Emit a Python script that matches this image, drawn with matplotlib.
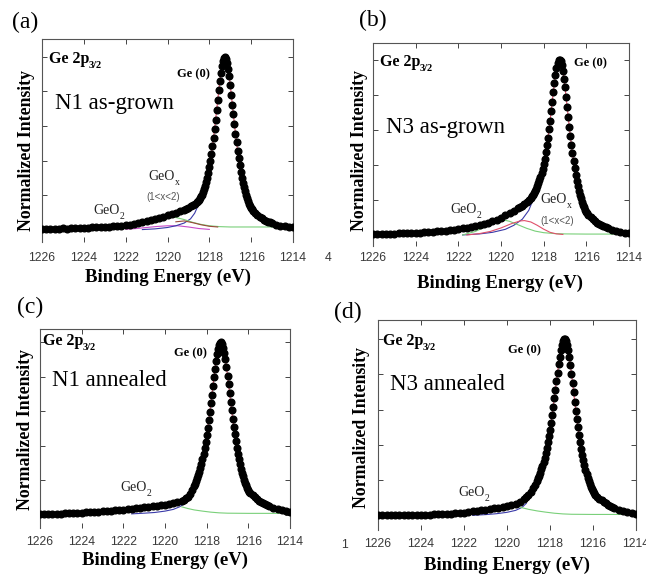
import numpy as np
import matplotlib.pyplot as plt

W, H = 646, 574
SERIF = 'Liberation Serif'
SANS = 'Liberation Sans'

# binding energy sampling (eV), denser across the Ge(0) peak
energy = np.round(np.concatenate([
    np.arange(1226.0, 1219.1, -0.2),
    np.arange(1219.1, 1218.65, -0.1),
    np.arange(1218.6, 1215.86, -0.05),
    np.arange(1215.8, 1214.95, -0.1),
    np.arange(1214.8, 1213.95, -0.2),
]), 2)

# measured points, normalized intensity
n1_grown = [
    0.004, 0.006, 0.004, 0.006, 0.005, 0.007, 0.006, 0.008, 0.009, 0.008,
    0.010, 0.011, 0.012, 0.013, 0.015, 0.016, 0.017, 0.019, 0.021, 0.023,
    0.026, 0.029, 0.033, 0.038, 0.043, 0.049, 0.055, 0.062, 0.069, 0.075,
    0.082, 0.090, 0.097, 0.105, 0.114,
    0.120, 0.127, 0.135, 0.143, 0.151,
    0.158, 0.165, 0.173, 0.182, 0.192, 0.203, 0.217, 0.234, 0.253, 0.275,
    0.300, 0.329, 0.362, 0.399, 0.439, 0.484, 0.531, 0.583, 0.637, 0.693,
    0.749, 0.806, 0.859, 0.907, 0.947, 0.977, 0.996, 1.000,
    0.990, 0.967, 0.932, 0.888, 0.837, 0.782, 0.724, 0.667, 0.610, 0.556,
    0.505, 0.457, 0.413, 0.372, 0.335, 0.301, 0.271, 0.244, 0.221, 0.200,
    0.181, 0.165, 0.150, 0.138, 0.127, 0.117, 0.108,
    0.095, 0.084, 0.074, 0.066, 0.058, 0.052, 0.046, 0.041, 0.037,
    0.029, 0.023, 0.019, 0.016, 0.013,
]
n3_grown = [
    0.004, 0.006, 0.004, 0.007, 0.006, 0.008, 0.010, 0.009, 0.011, 0.013,
    0.012, 0.014, 0.015, 0.017, 0.018, 0.020, 0.022, 0.024, 0.027, 0.030,
    0.034, 0.038, 0.042, 0.047, 0.052, 0.058, 0.064, 0.071, 0.079, 0.088,
    0.099, 0.112, 0.126, 0.139, 0.151,
    0.158, 0.166, 0.175, 0.186, 0.198,
    0.212, 0.221, 0.230, 0.241, 0.252, 0.265, 0.279, 0.295, 0.312, 0.331,
    0.352, 0.376, 0.404, 0.436, 0.471, 0.511, 0.554, 0.602, 0.652, 0.705,
    0.759, 0.813, 0.864, 0.910, 0.950, 0.979, 0.996, 1.000,
    0.991, 0.969, 0.935, 0.892, 0.842, 0.788, 0.731, 0.674, 0.618, 0.564,
    0.513, 0.466, 0.422, 0.381, 0.344, 0.310, 0.280, 0.253, 0.229, 0.208,
    0.189, 0.172, 0.157, 0.144, 0.133, 0.123, 0.114,
    0.101, 0.089, 0.079, 0.070, 0.062, 0.055, 0.049, 0.043, 0.038,
    0.030, 0.023, 0.017, 0.013, 0.010,
]
n1_annealed = [
    0.003, 0.003, 0.004, 0.005, 0.005, 0.006, 0.007, 0.008, 0.009, 0.010,
    0.011, 0.012, 0.014, 0.015, 0.017, 0.018, 0.020, 0.022, 0.024, 0.026,
    0.028, 0.031, 0.034, 0.037, 0.040, 0.042, 0.045, 0.048, 0.051, 0.054,
    0.057, 0.061, 0.066, 0.073, 0.081,
    0.086, 0.094, 0.104, 0.120, 0.140,
    0.166, 0.179, 0.194, 0.210, 0.228, 0.249, 0.271, 0.296, 0.324, 0.354,
    0.387, 0.423, 0.462, 0.504, 0.549, 0.596, 0.645, 0.695, 0.747, 0.797,
    0.846, 0.891, 0.931, 0.963, 0.986, 0.998, 0.999,
    0.989, 0.968, 0.938, 0.900, 0.856, 0.807, 0.757, 0.705, 0.654, 0.604,
    0.555, 0.509, 0.465, 0.425, 0.387, 0.353, 0.321, 0.292, 0.266, 0.242,
    0.221, 0.202, 0.185, 0.170, 0.156, 0.144, 0.133, 0.124,
    0.112, 0.100, 0.090, 0.080, 0.072, 0.065, 0.059, 0.053, 0.048,
    0.038, 0.031, 0.025, 0.020, 0.016,
]
n3_annealed = [
    0.002, 0.002, 0.003, 0.003, 0.003, 0.004, 0.004, 0.004, 0.005, 0.005,
    0.005, 0.006, 0.006, 0.007, 0.008, 0.009, 0.010, 0.012, 0.014, 0.016,
    0.018, 0.021, 0.024, 0.027, 0.030, 0.034, 0.037, 0.041, 0.045, 0.050,
    0.055, 0.060, 0.066, 0.076, 0.092,
    0.103, 0.115, 0.133, 0.154, 0.176,
    0.199, 0.212, 0.227, 0.243, 0.262, 0.282, 0.304, 0.328, 0.355, 0.384,
    0.415, 0.450, 0.487, 0.527, 0.571, 0.616, 0.664, 0.712, 0.762, 0.809,
    0.856, 0.899, 0.937, 0.967, 0.989, 0.999, 0.997,
    0.988, 0.966, 0.935, 0.896, 0.851, 0.801, 0.750, 0.697, 0.645, 0.594,
    0.545, 0.499, 0.455, 0.415, 0.378, 0.344, 0.313, 0.285, 0.259, 0.236,
    0.215, 0.197, 0.180, 0.165, 0.152, 0.140, 0.129, 0.119,
    0.108, 0.097, 0.087, 0.078, 0.069, 0.062, 0.055, 0.049, 0.044,
    0.034, 0.026, 0.020, 0.015, 0.012,
]

# fitted components (energy list, intensity list)
a_ge0 = ([1221.2, 1220.6, 1220.0, 1219.6, 1219.2, 1218.9, 1218.7, 1218.5, 1218.35],
         [0.000, 0.004, 0.012, 0.022, 0.038, 0.062, 0.095, 0.150, 0.210])
a_geo2 = ([1222.0, 1221.5, 1221.0, 1220.5, 1220.0, 1219.5, 1219.0, 1218.5, 1218.0],
          [0.002, 0.006, 0.012, 0.018, 0.022, 0.022, 0.015, 0.006, 0.001])
a_geox = ([1221.0, 1220.5, 1220.0, 1219.6, 1219.2, 1218.8, 1218.4, 1218.0, 1217.5,
           1217.0, 1216.0, 1215.0, 1214.2],
          [0.045, 0.062, 0.073, 0.070, 0.058, 0.042, 0.030, 0.022, 0.017,
           0.015, 0.015, 0.015, 0.015])
a_geox2 = ([1219.6, 1219.2, 1218.8, 1218.4, 1218.0, 1217.6],
           [0.045, 0.050, 0.040, 0.028, 0.019, 0.015])

b_ge0 = ([1221.8, 1221.0, 1220.4, 1219.8, 1219.4, 1219.0, 1218.7, 1218.5, 1218.35],
         [0.000, 0.006, 0.015, 0.032, 0.055, 0.090, 0.140, 0.200, 0.260])
b_geo2 = ([1221.8, 1221.2, 1220.6, 1220.2, 1219.9, 1219.6, 1219.2, 1218.8, 1218.4,
           1218.0, 1217.5, 1217.0, 1216.0, 1215.0, 1214.2],
          [0.000, 0.020, 0.055, 0.080, 0.086, 0.078, 0.058, 0.038, 0.022,
           0.013, 0.008, 0.006, 0.005, 0.005, 0.005])
b_geox = ([1221.6, 1221.0, 1220.5, 1220.0, 1219.5, 1219.1, 1218.9, 1218.6, 1218.3,
           1218.0, 1217.7, 1217.4, 1217.1],
          [0.000, 0.008, 0.020, 0.040, 0.065, 0.080, 0.082, 0.074, 0.055,
           0.033, 0.015, 0.006, 0.003])

c_ge0 = ([1221.6, 1221.0, 1220.5, 1220.0, 1219.6, 1219.3, 1219.1, 1218.95],
         [0.004, 0.008, 0.012, 0.020, 0.030, 0.045, 0.060, 0.085])
c_bg = ([1219.2, 1218.9, 1218.6, 1218.2, 1217.8, 1217.4, 1217.0, 1216.0, 1215.0, 1214.2],
        [0.045, 0.035, 0.027, 0.020, 0.014, 0.010, 0.008, 0.007, 0.007, 0.007])

d_ge0 = ([1221.6, 1221.0, 1220.5, 1220.0, 1219.6, 1219.3, 1219.1],
         [0.002, 0.006, 0.011, 0.019, 0.030, 0.047, 0.070])
d_bg = ([1219.4, 1219.0, 1218.6, 1218.2, 1217.8, 1217.4, 1217.0, 1216.0, 1215.0, 1214.2],
        [0.048, 0.036, 0.027, 0.020, 0.014, 0.010, 0.008, 0.007, 0.007, 0.007])

xticks = [1226, 1224, 1222, 1220, 1218, 1216, 1214]

BLUE = '#3a3aa8'
MAG = '#c84ac8'
GREEN = '#7ad07a'
RED = '#e0506a'
BROWN = '#9a4a3a'

fig = plt.figure(figsize=(W / 100, H / 100), dpi=100)


def fx(x):
    return x / W


def fy(y):
    return 1 - y / H


def panel(box, ylim, data, comps, pad):
    l, t, r, b = box
    ax = fig.add_axes([fx(l), fy(b), (r - l) / W, (b - t) / H])
    for (e, v), c in comps:
        ax.plot(e, v, color=c, lw=0.8, zorder=2)
    ax.plot(energy, data, '-', color=RED, lw=0.8, zorder=3)
    ax.plot(energy, data, 'o', color='black', ms=4.8, mec='black', zorder=4)
    ax.set_xlim(1226, 1214)
    ax.set_ylim(*ylim)
    ax.set_xticks(xticks)
    ax.set_xticklabels([str(v) for v in xticks], family=SANS, fontsize=8.8, color='#3a3a3a')
    ax.set_yticks([0, 0.2, 0.4, 0.6, 0.8, 1.0])
    ax.set_yticklabels([])
    ax.tick_params(direction='in', length=3.5, width=0.7, color='#444444',
                   top=True, right=True)
    ax.tick_params(axis='x', pad=pad)
    for s in ['left', 'right', 'top']:
        ax.spines[s].set_color('#555555')
        ax.spines[s].set_linewidth(0.8)
    ax.spines['bottom'].set_visible(False)
    return ax


def label_texts(lab, lab_xy, sample, sample_xy, head_xy, ge0_xy, ylab_x, xlab_xy):
    fig.text(fx(lab_xy[0]), fy(lab_xy[1]), lab, family=SERIF, fontsize=17,
             ha='left', va='center')
    fig.text(fx(head_xy[0]), fy(head_xy[1]), 'Ge 2p', family=SERIF, fontsize=11.5,
             fontweight='bold', ha='left', va='baseline')
    fig.text(fx(head_xy[0] + 40), fy(head_xy[1] + 5), '3/2', family=SERIF, fontsize=7.5,
             fontweight='bold', ha='left', va='baseline')
    fig.text(fx(sample_xy[0]), fy(sample_xy[1]), sample, family=SERIF, fontsize=16.5,
             ha='left', va='center')
    fig.text(fx(ge0_xy[0]), fy(ge0_xy[1]), 'Ge (0)', family=SERIF, fontsize=9,
             fontweight='bold', ha='left', va='center')
    fig.text(fx(ylab_x[0]), fy(ylab_x[1]), 'Normalized Intensity', family=SERIF,
             fontsize=12.8, fontweight='bold', rotation=90, ha='center', va='center')
    fig.text(fx(xlab_xy[0]), fy(xlab_xy[1]), 'Binding Energy (eV)', family=SERIF,
             fontsize=13.5, fontweight='bold', ha='center', va='center')


def geo(x, y, sub):
    fig.text(fx(x), fy(y), 'GeO', family=SERIF, fontsize=10, ha='left', va='baseline',
             color='#222222')
    fig.text(fx(x + 27), fy(y + 5), sub, family=SERIF, fontsize=7, ha='left',
             va='baseline', color='#222222')


# (a) N1 as-grown
panel((42, 39, 293, 242), (-0.072, 1.104), n1_grown,
      [(a_geo2, MAG), (a_ge0, BLUE), (a_geox, GREEN), (a_geox2, BROWN)], 7)
label_texts('(a)', (12, 22), 'N1 as-grown', (55, 103), (49, 63), (177, 74),
            (27, 150), (168, 277))
geo(93, 214, '2')
geo(148, 180, 'x')
fig.text(fx(163), fy(197), '(1<x<2)', family=SANS, fontsize=7, color='#555555',
         ha='center', va='center')

# (b) N3 as-grown
panel((373, 43, 629, 246), (-0.063, 1.095), n3_grown,
      [(b_ge0, BLUE), (b_geo2, GREEN), (b_geox, RED)], 4)
label_texts('(b)', (359, 20), 'N3 as-grown', (386, 128), (380, 66), (574, 63),
            (360, 150), (500, 283))
geo(450, 213, '2')
geo(540, 203, 'x')
fig.text(fx(557), fy(221), '(1<x<2)', family=SANS, fontsize=7, color='#555555',
         ha='center', va='center')
fig.text(fx(328), fy(258), '4', family=SANS, fontsize=8.8, color='#3a3a3a',
         ha='center', va='center')

# (c) N1 annealed
panel((40, 329, 290, 528), (-0.078, 1.077), n1_annealed,
      [(c_ge0, BLUE), (c_bg, GREEN)], 5.5)
label_texts('(c)', (17, 307), 'N1 annealed', (52, 380), (43, 345), (174, 353),
            (26, 430), (165, 560))
geo(120, 491, '2')

# (d) N3 annealed
panel((378, 320, 636, 530), (-0.081, 1.107), n3_annealed,
      [(d_ge0, BLUE), (d_bg, GREEN)], 5.5)
label_texts('(d)', (334, 312), 'N3 annealed', (390, 385), (383, 345), (508, 350),
            (362, 428), (507, 565))
geo(458, 496, '2')
fig.text(fx(345), fy(545), '1', family=SANS, fontsize=8.8, color='#3a3a3a',
         ha='center', va='center')

fig.savefig('out.png', dpi=100)
